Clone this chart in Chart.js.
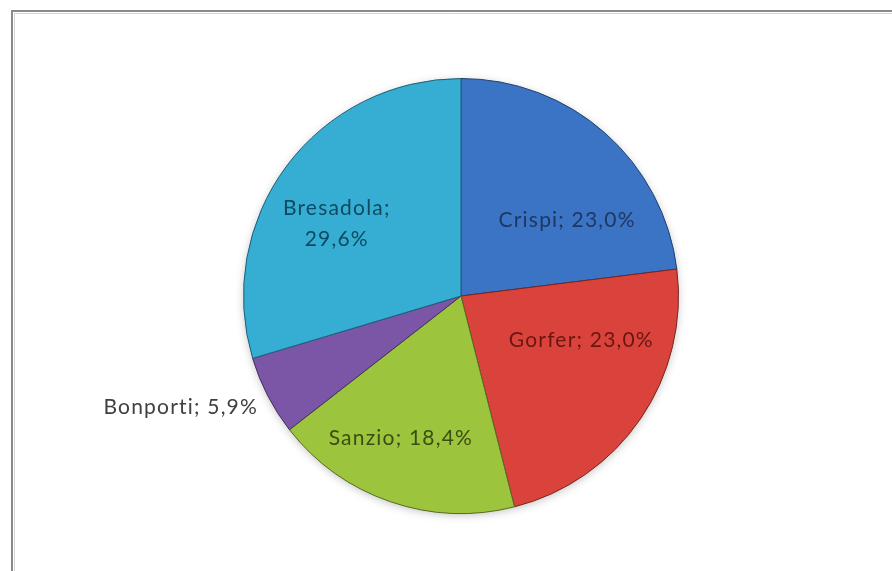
<!DOCTYPE html>
<html>
<head>
<meta charset="utf-8">
<script src="https://cdn.jsdelivr.net/npm/chart.js@4"></script>
<style>
  html, body { margin: 0; padding: 0; background: #fff; }
  #wrap { width: 892px; height: 571px; }
</style>
</head>
<body>
<div id="wrap"><canvas id="chart" width="892" height="571"></canvas></div>
<script>
const sliceNames = ['Crispi', 'Gorfer', 'Sanzio', 'Bonporti', 'Bresadola'];
const sliceShares = [23.0, 23.0, 18.4, 5.9, 29.6];
const sliceColors = ['#3b74c4', '#d9433b', '#9dc43d', '#7b56a7', '#36aed4'];
const textColors = ['#1d375f', '#6a1611', '#3c4d12', '#404040', '#0e4a60'];

// where each label sits: fraction of radius, angle shift in degrees, inside or not
const labelSpots = [
  { r: 0.60, shift: 13, inside: true },
  { r: 0.59, shift: -14, inside: true },
  { r: 0.71, shift: 4, inside: true },
  { r: 1.065, shift: -1.5, inside: false },
  { r: 0.66, shift: -6.6, inside: true, split: true }
];

function fmt(v) {
  return v.toFixed(1).replace('.', ',') + '%';
}

function shade(hex, amt) {
  const n = parseInt(hex.slice(1), 16);
  let r = (n >> 16) & 255, g = (n >> 8) & 255, b = n & 255;
  const f = c => Math.max(0, Math.min(255, Math.round(amt < 0 ? c * (1 + amt) : c + (255 - c) * amt)));
  return `rgb(${f(r)},${f(g)},${f(b)})`;
}

function sliceFill(context) {
  const chart = context.chart;
  const arc = chart.getDatasetMeta(0).data[context.dataIndex];
  const base = sliceColors[context.dataIndex];
  if (!arc || !arc.outerRadius) return base;
  const {x, y, outerRadius} = arc;
  const g = chart.ctx.createRadialGradient(x, y, 0, x, y, outerRadius);
  g.addColorStop(0, shade(base, -0.08));
  g.addColorStop(0.9, base);
  g.addColorStop(0.955, shade(base, 0.22));
  g.addColorStop(1, shade(base, -0.25));
  return g;
}

const framePlugin = {
  id: 'frame',
  beforeDraw(chart) {
    const ctx = chart.ctx;
    ctx.save();
    ctx.fillStyle = '#ffffff';
    ctx.fillRect(0, 0, chart.width, chart.height);
    ctx.strokeStyle = '#8a8a8a';
    ctx.lineWidth = 2;
    ctx.beginPath();
    ctx.moveTo(12, chart.height);
    ctx.lineTo(12, 11);
    ctx.lineTo(chart.width, 11);
    ctx.stroke();
    ctx.strokeStyle = '#d4d4d4';
    ctx.lineWidth = 1;
    ctx.beginPath();
    ctx.moveTo(14.5, chart.height);
    ctx.lineTo(14.5, 13.5);
    ctx.lineTo(chart.width, 13.5);
    ctx.stroke();
    ctx.restore();
  },
  beforeDatasetsDraw(chart) {
    // soft glow under the pie
    const arc = chart.getDatasetMeta(0).data[0];
    if (!arc) return;
    const ctx = chart.ctx;
    ctx.save();
    ctx.shadowColor = 'rgba(0,0,0,0.28)';
    ctx.shadowBlur = 10;
    ctx.shadowOffsetY = 2;
    ctx.fillStyle = '#ffffff';
    ctx.beginPath();
    ctx.arc(arc.x, arc.y, arc.outerRadius - 1, 0, Math.PI * 2);
    ctx.fill();
    ctx.restore();
  }
};

const labelPlugin = {
  id: 'sliceLabels',
  afterDatasetsDraw(chart) {
    const ctx = chart.ctx;
    const meta = chart.getDatasetMeta(0);
    ctx.save();
    ctx.font = '21px Lato, "Open Sans", sans-serif';
    ctx.letterSpacing = '1.2px';
    ctx.textBaseline = 'middle';
    meta.data.forEach((arc, i) => {
      const spot = labelSpots[i];
      const mid = (arc.startAngle + arc.endAngle) / 2 + spot.shift * Math.PI / 180;
      const px = arc.x + Math.cos(mid) * arc.outerRadius * spot.r;
      const py = arc.y + Math.sin(mid) * arc.outerRadius * spot.r;
      ctx.fillStyle = textColors[i];
      const value = chart.data.datasets[0].data[i];
      const name = chart.data.labels[i];
      if (spot.split) {
        ctx.textAlign = 'center';
        ctx.fillText(name + ';', px, py - 16);
        ctx.fillText(fmt(value), px, py + 15);
      } else if (!spot.inside) {
        ctx.textAlign = 'right';
        ctx.fillText(`${name}; ${fmt(value)}`, px, py);
      } else {
        ctx.textAlign = 'center';
        ctx.fillText(`${name}; ${fmt(value)}`, px, py);
      }
    });
    ctx.restore();
  }
};

new Chart(document.getElementById('chart'), {
  type: 'pie',
  data: {
    labels: sliceNames,
    datasets: [{
      data: sliceShares,
      backgroundColor: sliceFill,
      borderColor: sliceColors.map(c => shade(c, -0.45)),
      borderWidth: 1
    }]
  },
  options: {
    responsive: false,
    animation: false,
    layout: { padding: { left: 30, right: 0, top: 78, bottom: 57 } },
    plugins: {
      legend: { display: false },
      tooltip: { enabled: false }
    }
  },
  plugins: [framePlugin, labelPlugin]
});
</script>
</body>
</html>
